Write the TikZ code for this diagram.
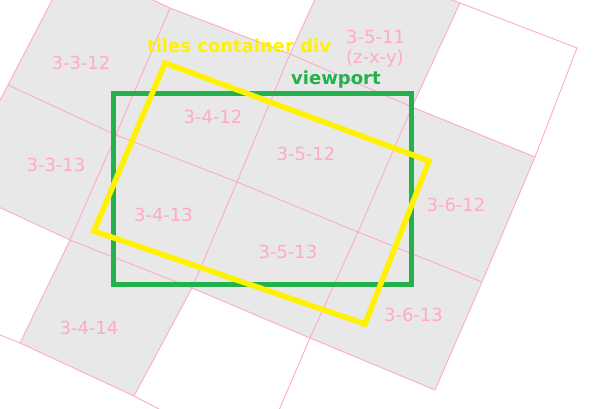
\documentclass[tikz,border=0pt]{standalone}
\usepackage{fontspec}
\newfontfamily\tilefont{DejaVu Sans}
\definecolor{tilepink}{RGB}{255,170,198}
\definecolor{tilegray}{RGB}{232,232,232}
\definecolor{vpgreen}{RGB}{34,177,76}
\definecolor{divyellow}{RGB}{255,242,0}

\begin{document}
\begin{tikzpicture}[x=1pt, y=-1pt,
    gridline/.style={draw=tilepink, line width=0.9pt},
    tilelbl/.style={text=tilepink, inner sep=0pt, font=\tilefont\fontsize{18}{20}\selectfont},
    boxlbl/.style={inner sep=0pt, anchor=base west, font=\tilefont\bfseries\fontsize{18}{20}\selectfont}]
    \useasboundingbox (0,0) rectangle (614,409);
    \clip (0,0) rectangle (614,409);

    % tile corners: (p<x>-<y>)
    \coordinate (p6-11) at (460,3);
    \coordinate (p7-11) at (577,48);
    \coordinate (p4-12) at (170,8);
    \coordinate (p5-12) at (290,54);
    \coordinate (p6-12) at (412,107);
    \coordinate (p7-12) at (535,157);
    \coordinate (p3-13) at (8,85);
    \coordinate (p4-13) at (116,135);
    \coordinate (p5-13) at (237,182);
    \coordinate (p6-13) at (358,232);
    \coordinate (p7-13) at (482,282);
    \coordinate (p4-14) at (70,240);
    \coordinate (p5-14) at (192,288);
    \coordinate (p6-14) at (310,338);
    \coordinate (p7-14) at (435,390);
    \coordinate (p4-15) at (20,343);
    \coordinate (p5-15) at (134,396);
    % where lines leave the picture
    \coordinate (e3t) at (63,-21);
    \coordinate (e3b) at (-5,110);
    \coordinate (e12l) at (127,-12);
    \coordinate (e5t) at (322,-16);
    \coordinate (e11l) at (436,-6);
    \coordinate (e14l) at (-10,203);
    \coordinate (e15l) at (-10,331);
    \coordinate (e15r) at (180,420);
    \coordinate (e6b) at (267,438);

    % loaded tiles
    \fill[tilegray] (e3t) -- (e12l) -- (p4-12) -- (p5-12) -- (e5t) -- (e11l)
        -- (p6-11) -- (p6-12) -- (p7-12) -- (p7-13) -- (p7-14) -- (p6-14)
        -- (p5-14) -- (p5-15) -- (p4-15) -- (p4-14) -- (e14l) -- (e3b)
        -- (p3-13) -- cycle;

    % tile borders
    \draw[gridline] (e3t) -- (p3-13) -- (e3b);
    \draw[gridline] (p4-12) -- (p4-13) -- (p4-14) -- (p4-15);
    \draw[gridline] (e5t) -- (p5-12) -- (p5-13) -- (p5-14) -- (p5-15);
    \draw[gridline] (p6-11) -- (p6-12) -- (p6-13) -- (p6-14) -- (e6b);
    \draw[gridline] (p7-11) -- (p7-12) -- (p7-13) -- (p7-14);
    \draw[gridline] (e11l) -- (p6-11) -- (p7-11);
    \draw[gridline] (e12l) -- (p4-12) -- (p5-12) -- (p6-12) -- (p7-12);
    \draw[gridline] (p3-13) -- (p4-13) -- (p5-13) -- (p6-13) -- (p7-13);
    \draw[gridline] (e14l) -- (p4-14) -- (p5-14) -- (p6-14) -- (p7-14);
    \draw[gridline] (e15l) -- (p4-15) -- (p5-15) -- (e15r);

    \node[tilelbl] (t3-3-12) at (81,62.5) {3-3-12};
    \node[tilelbl] (t3-3-13) at (56,165) {3-3-13};
    \node[tilelbl] (t3-4-12) at (213,116.5) {3-4-12};
    \node[tilelbl] (t3-5-12) at (306,154) {3-5-12};
    \node[tilelbl, align=left, anchor=north west] (t3-5-11) at (346,29.5) {3-5-11\\(z-x-y)};
    \node[tilelbl] (t3-4-13) at (163.5,215) {3-4-13};
    \node[tilelbl] (t3-5-13) at (288,252) {3-5-13};
    \node[tilelbl] (t3-6-12) at (456,205) {3-6-12};
    \node[tilelbl] (t3-6-13) at (413.5,314.5) {3-6-13};
    \node[tilelbl] (t3-4-14) at (89,328) {3-4-14};

    % viewport
    \draw[vpgreen, line width=5pt] (113.5,94) rectangle (411.5,284.5);

    % tiles container div
    \coordinate (dn) at (165,63);
    \coordinate (de) at (429,161);
    \coordinate (ds) at (365,324);
    \coordinate (dw) at (94,231);
    \draw[divyellow, line width=5.5pt] (dn) -- (de) -- (ds) -- (dw) -- cycle;

    \node[boxlbl, text=divyellow] (divlbl) at (147,53) {tiles container div};
    \node[boxlbl, text=vpgreen] (vplbl) at (291,85) {viewport};
\end{tikzpicture}
\end{document}
